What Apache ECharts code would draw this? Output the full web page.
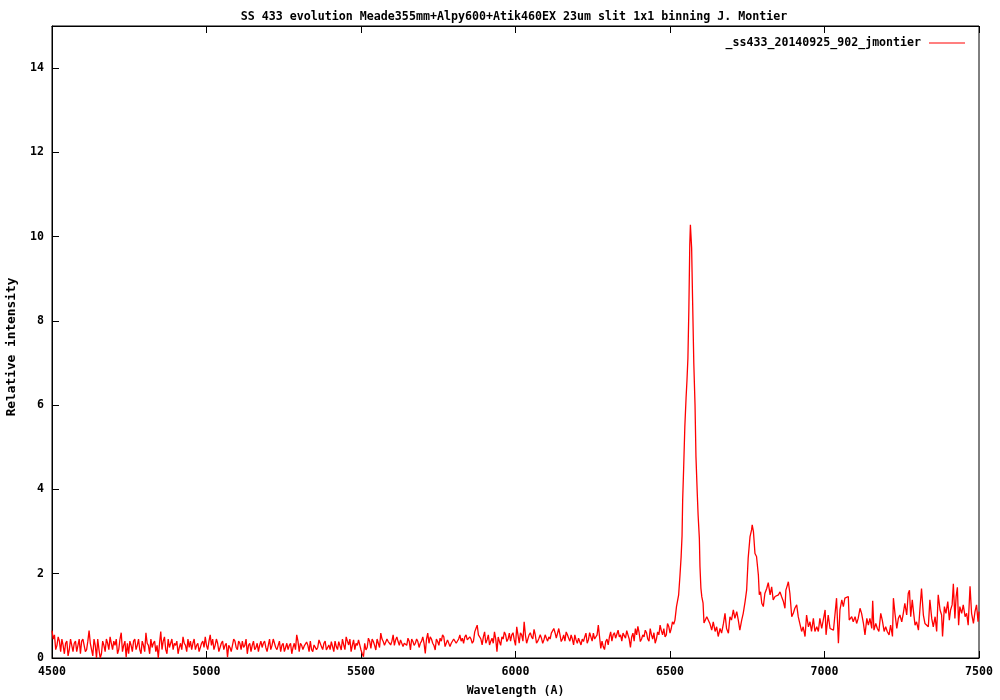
<!DOCTYPE html>
<html>
<head>
<meta charset="utf-8">
<script src="https://cdn.jsdelivr.net/npm/echarts@6/dist/echarts.min.js"></script>
<style>
html,body{margin:0;padding:0;background:#fff;}
#chart{width:1000px;height:700px;}
</style>
</head>
<body>
<div id="chart"></div>
<script>
const chartTitle = 'SS 433 evolution Meade355mm+Alpy600+Atik460EX 23um slit 1x1 binning J. Montier';
const seriesName = '_ss433_20140925_902_jmontier';
const xAxisName = 'Wavelength (A)';
const yAxisName = 'Relative intensity';
const xTicks = { min: 4500, max: 7500, interval: 500 };
const yTicks = { min: 0, max: 15, interval: 2 };

// [wavelength (A), relative intensity]
const blueContinuum = [
[4500,0.65],[4508,0.55],[4516,0.30],[4524,0.40],[4532,0.45],[4540,0.10],[4548,0.40],[4556,0.20],[4564,0.30],[4572,0.35],
[4580,0.15],[4588,0.45],[4596,0.40],[4604,0.30],[4612,0.20],[4620,0.65],[4628,0.20],[4636,0.45],[4644,0.00],[4652,0.20],
[4660,0.10],[4668,0.30],[4676,0.45],[4684,0.20],[4692,0.35],[4700,0.40],[4708,0.45],[4716,0.20],[4724,0.60],[4732,0.30],
[4740,0.02],[4748,0.10],[4756,0.30],[4764,0.40],[4772,0.20],[4780,0.45],[4788,0.10],[4796,0.30],[4804,0.60],[4812,0.30],
[4820,0.45],[4828,0.35],[4836,0.15],[4844,0.00],[4852,0.63],[4860,0.40],[4868,0.20],[4876,0.45],[4884,0.35],[4892,0.20],
[4900,0.30],[4908,0.10],[4916,0.35],[4924,0.50],[4932,0.30],[4940,0.45],[4948,0.40],[4956,0.35],[4964,0.20],[4972,0.35],
[4980,0.25],[4988,0.40],[4996,0.50],[5004,0.20],[5012,0.55],[5020,0.45],[5028,0.30],[5036,0.35],[5044,0.25],[5052,0.40],
[5060,0.30],[5068,0.02],[5076,0.25],[5084,0.30],[5092,0.40],[5100,0.20],[5108,0.35],[5116,0.40],[5124,0.30],[5132,0.10],
[5140,0.35],[5148,0.30],[5156,0.20],[5164,0.35],[5172,0.30],[5180,0.25],[5188,0.40],[5196,0.15],[5204,0.45],[5212,0.30],
[5220,0.35],[5228,0.20],[5236,0.40],[5244,0.30],[5252,0.15],[5260,0.35],[5268,0.30],
[5276,0.10],[5284,0.35],[5292,0.55],[5300,0.15],[5308,0.30],[5316,0.28],[5324,0.38],[5332,0.15],[5340,0.20],[5348,0.31],
[5356,0.20],[5364,0.43],[5372,0.27],[5380,0.35],[5388,0.19],[5396,0.31],[5404,0.39],[5412,0.15],[5420,0.27],[5428,0.39],
[5436,0.19],[5444,0.31],[5452,0.50],[5460,0.31],[5468,0.15],[5476,0.43],[5484,0.35],[5492,0.43],[5500,0.19],[5508,0.03],
[5516,0.19],[5524,0.47],[5532,0.23],[5540,0.39],[5548,0.19],[5556,0.35],[5564,0.59],[5572,0.39],[5580,0.27],[5588,0.39],
[5596,0.31],[5604,0.55],[5612,0.43],[5620,0.39],[5628,0.43],[5636,0.27],[5644,0.39],[5652,0.47],[5660,0.19],[5668,0.39],
[5676,0.35],[5684,0.39],[5692,0.35],[5700,0.50],[5708,0.11],[5716,0.59],[5724,0.50],[5732,0.35],[5740,0.19],[5748,0.39],
[5756,0.47],[5764,0.55],[5772,0.27],[5780,0.43],[5788,0.27],[5796,0.39],[5804,0.43],[5812,0.35],[5820,0.55],[5828,0.47],
[5836,0.50],[5844,0.43],[5852,0.50],[5860,0.35],[5868,0.62],[5876,0.78],[5884,0.59],[5892,0.31],[5900,0.62],[5908,0.43],
[5916,0.31],[5924,0.47],[5932,0.62],[5940,0.15],[5948,0.39],[5956,0.50],[5964,0.62],[5972,0.39],[5980,0.59],[5988,0.55],
[5996,0.43],[6004,0.74],[6012,0.35],[6020,0.55],[6028,0.86],
[6036,0.35],[6044,0.55],[6052,0.50],[6060,0.68],[6068,0.35],[6076,0.47],[6084,0.47],[6092,0.43],[6100,0.47],[6108,0.50],
[6116,0.59],[6124,0.70],[6132,0.47],[6140,0.70],[6148,0.39],[6156,0.55],[6164,0.62],[6172,0.47],[6180,0.55],[6188,0.31],
[6196,0.43],[6204,0.47],[6212,0.31],[6220,0.39],[6228,0.59],[6236,0.43],[6244,0.50],[6252,0.59],[6260,0.47],[6268,0.78],
[6276,0.23],[6284,0.27],[6292,0.39],[6300,0.31],[6308,0.62],[6316,0.55],[6324,0.47],[6332,0.66],[6340,0.55],[6348,0.59],
[6356,0.47],[6364,0.55],[6372,0.25],[6380,0.59],[6388,0.70],[6396,0.75],[6404,0.39],[6412,0.55],[6420,0.66],[6428,0.45],
[6436,0.70],[6444,0.45],[6452,0.35],[6460,0.62],[6468,0.78],[6476,0.55],[6484,0.50],[6492,0.82],[6500,0.59],[6508,0.86],
[6516,0.90]
];

// in-between samples of the same continuum (noise read between the points above)
const blueContinuumMid = [
[4504,0.45],[4512,0.20],[4520,0.50],[4528,0.15],[4536,0.30],[4544,0.35],[4552,0.05],[4560,0.45],[4568,0.15],[4576,0.40],
[4584,0.30],[4592,0.10],[4600,0.45],[4608,0.15],[4616,0.40],[4624,0.35],[4632,0.05],[4640,0.30],[4648,0.45],[4656,0.00],
[4664,0.40],[4672,0.15],[4680,0.35],[4688,0.50],[4696,0.20],[4704,0.30],[4712,0.10],[4720,0.45],[4728,0.15],[4736,0.40],
[4744,0.35],[4752,0.40],[4760,0.15],[4768,0.45],[4776,0.30],[4784,0.20],[4792,0.40],[4800,0.15],[4808,0.35],[4816,0.10],
[4824,0.25],[4832,0.40],[4840,0.30],[4848,0.35],[4856,0.20],[4864,0.50],[4872,0.10],[4880,0.25],[4888,0.45],[4896,0.35],
[4904,0.40],[4912,0.25],[4920,0.20],[4928,0.35],[4936,0.15],[4944,0.25],[4952,0.20],[4960,0.45],[4968,0.30],[4976,0.15],
[4984,0.35],[4992,0.25],[5000,0.30],[5008,0.40],[5016,0.30],[5024,0.20],[5032,0.45],[5040,0.15],[5048,0.35],[5056,0.20],
[5064,0.35],[5072,0.30],[5080,0.15],[5088,0.45],[5096,0.25],[5104,0.40],[5112,0.20],[5120,0.25],[5128,0.45],[5136,0.30],
[5144,0.15],[5152,0.40],[5160,0.25],[5168,0.15],[5176,0.40],[5184,0.35],[5192,0.25],[5200,0.30],[5208,0.20],[5216,0.45],
[5224,0.25],[5232,0.30],[5240,0.15],[5248,0.35],[5256,0.25],[5264,0.20],[5272,0.35],[5280,0.25],[5288,0.20],[5296,0.40],
[5304,0.35],[5312,0.20],[5320,0.25],[5328,0.30],[5336,0.40],[5344,0.15],[5352,0.35],[5360,0.25],[5368,0.35],[5376,0.20],
[5384,0.40],[5392,0.25],[5400,0.20],[5408,0.35],[5416,0.40],[5424,0.20],[5432,0.35],[5440,0.45],[5448,0.20],[5456,0.40],
[5464,0.45],[5472,0.30],[5480,0.20],[5488,0.30],[5496,0.40],[5504,0.10],[5512,0.35],[5520,0.25],[5528,0.40],[5536,0.45],
[5544,0.30],[5552,0.45],[5560,0.25],[5568,0.45],[5576,0.30],[5584,0.45],[5592,0.35],[5600,0.40],[5608,0.30],[5616,0.50],
[5624,0.30],[5632,0.45],[5640,0.35],[5648,0.30],[5656,0.40],[5664,0.45],[5672,0.30],[5680,0.45],[5688,0.25],[5696,0.40],
[5704,0.35],[5712,0.45],[5720,0.35],[5728,0.45],[5736,0.30],[5744,0.45],[5752,0.30],[5760,0.40],[5768,0.50],[5776,0.35],
[5784,0.45],[5792,0.35],[5800,0.45],
[5808,0.35],[5816,0.45],[5824,0.40],[5832,0.35],[5840,0.55],[5848,0.40],[5856,0.45],[5864,0.40],[5872,0.70],[5880,0.55],
[5888,0.45],[5896,0.50],[5904,0.35],[5912,0.55],[5920,0.40],[5928,0.35],[5936,0.45],[5944,0.50],[5952,0.30],[5960,0.45],
[5968,0.55],[5976,0.45],[5984,0.40],[5992,0.60],[6000,0.30],[6008,0.55],[6016,0.60],[6024,0.40],[6032,0.55],[6040,0.45],
[6048,0.60],[6056,0.45],[6064,0.55],[6072,0.40],[6080,0.55],[6088,0.35],[6096,0.55],[6104,0.40],[6112,0.45],[6120,0.55],
[6128,0.60],[6136,0.45],[6144,0.55],[6152,0.45],[6160,0.40],[6168,0.55],[6176,0.40],[6184,0.45],[6192,0.55],[6200,0.35],
[6208,0.50],[6216,0.45],[6224,0.50],[6232,0.35],[6240,0.60],[6248,0.40],[6256,0.45],[6264,0.55],[6272,0.50],[6280,0.40],
[6288,0.20],[6296,0.45],[6304,0.50],[6312,0.40],[6320,0.60],[6328,0.45],[6336,0.50],[6344,0.40],[6352,0.55],[6360,0.65],
[6368,0.45],[6376,0.50],[6384,0.40],[6392,0.55],[6400,0.60],[6408,0.45],[6416,0.50],[6424,0.60],[6432,0.40],[6440,0.55],
[6448,0.60],[6456,0.45],[6464,0.55],[6472,0.65],[6480,0.70],[6488,0.55],[6496,0.75],[6504,0.70],[6512,0.80]
];

const halphaLine = [
[6521,1.22],[6525,1.38],[6528,1.50],[6532,1.93],[6536,2.40],[6539,2.90],[6541,3.75],[6544,4.46],[6548,5.49],[6552,6.17],
[6555,6.60],[6558,7.12],[6561,8.26],[6564,9.80],[6566,10.28],[6568,10.30],[6570,9.73],[6573,8.54],[6577,7.00],[6581,6.00],
[6584,4.78],[6588,3.95],[6591,3.39],[6595,2.84],[6597,2.17],[6600,1.66],[6603,1.45],[6607,1.30],[6610,0.83]
];

const redContinuum = [
[6613,0.82],[6619,0.98],[6624,0.94],[6629,0.82],[6635,0.66],[6640,0.86],[6646,0.63],[6651,0.74],[6656,0.51],[6662,0.70],
[6667,0.59],[6673,0.82],[6678,1.06],[6683,0.70],[6689,0.59],[6694,0.98],[6699,0.90],[6705,1.14],[6710,0.94],[6716,1.10],
[6721,0.90],[6726,0.66],[6732,0.90],[6737,1.06],[6743,1.34],[6748,1.61],[6753,2.37],[6759,2.88],[6764,3.04],[6766,3.16],
[6770,3.00],[6775,2.48],[6780,2.41],[6786,1.97],[6789,1.50],[6793,1.57],[6797,1.30],[6802,1.22],[6807,1.53],[6813,1.65],
[6818,1.79],[6824,1.50],[6829,1.69],[6834,1.38],[6840,1.46],[6845,1.42],[6851,1.50],[6856,1.57],[6861,1.46],[6867,1.34],
[6872,1.18],[6875,1.61],[6880,1.73],[6883,1.81],[6888,1.53],[6894,0.98],[6899,1.06],[6904,1.18],[6910,1.26],[6915,0.98],
[6921,1.02],[6926,0.63],[6931,0.74],[6937,0.51],[6940,0.47],[6942,1.02],[6948,0.74],[6953,0.86],[6958,0.63],[6964,0.94],
[6969,0.63],[6975,0.74],[6980,0.63],[6985,0.94],[6991,0.70],[6996,0.74],[7002,1.14],[7005,0.55],[7012,1.02],[7018,0.70],
[7023,0.74],[7029,0.66],[7034,0.63],[7039,1.42],[7045,0.35],[7050,1.14],[7056,1.38],[7061,1.22],[7066,1.42],[7072,1.46],
[7077,1.46],[7080,0.90],[7088,0.98],[7093,0.86],[7099,0.98],[7104,0.82],[7109,0.94],[7115,1.18],[7120,1.06],[7126,0.82],
[7131,0.55],[7137,0.94],[7142,0.78],[7147,0.94],[7153,0.70],[7156,1.36],[7160,0.66],[7166,0.82],[7171,0.70],[7176,0.63],
[7182,1.06],[7187,0.90],[7193,0.63],[7198,0.74],[7203,0.63],[7209,0.55],[7214,0.78],[7220,0.51],[7223,1.42],[7228,1.06],
[7234,0.70],[7239,0.94],[7244,1.02],[7250,0.86],[7255,1.06],[7260,1.30],[7266,1.02],[7271,1.53],[7275,1.61],[7279,0.98],
[7284,1.38],[7288,1.10],[7293,0.78],[7298,0.86],[7304,0.66],[7309,1.18],[7314,1.65],[7320,1.02],[7325,0.82],[7331,0.78],
[7336,0.74],[7341,1.38],[7347,0.94],[7352,0.74],[7358,0.98],[7363,0.63],[7368,1.50],[7374,1.14],[7379,1.02],[7382,0.51],
[7388,1.22],[7393,1.06],[7399,1.34],[7404,0.90],[7408,1.14],[7413,1.26],[7417,1.76],[7422,0.94],[7426,1.46],[7430,1.68],
[7434,0.78],[7438,1.22],[7444,1.06],[7449,1.26],[7455,0.98],[7460,1.06],[7465,0.78],[7471,1.70],[7476,1.06],[7482,0.82],
[7487,1.10],[7492,1.26],[7497,0.86],[7500,1.10]
];

const spectrum = blueContinuum.concat(blueContinuumMid, halphaLine, redContinuum)
  .sort((a, b) => a[0] - b[0]);

const FONT = 'DejaVu Sans Mono';
const txt = { fontFamily: FONT, fontWeight: 'bold', fontSize: 11.6, color: '#000' };
const plain = v => String(v);

const chart = echarts.init(document.getElementById('chart'), null, { renderer: 'canvas' });
chart.setOption({
  animation: false,
  backgroundColor: '#fff',
  title: {
    text: chartTitle,
    left: 509,
    top: 6,
    textAlign: 'center',
    textStyle: Object.assign({}, txt, { fontSize: 11.65 })
  },
  legend: {
    data: [seriesName],
    right: 30,
    top: 32,
    align: 'right',
    icon: 'rect',
    itemWidth: 36,
    itemHeight: 1,
    textStyle: Object.assign({ padding: [0, 3, 0, 0] }, txt)
  },
  grid: {
    left: 52, right: 21, top: 26, bottom: 42,
    containLabel: false,
    outerBoundsMode: 'none',
    show: true,
    borderColor: '#000',
    borderWidth: 1,
    backgroundColor: 'transparent'
  },
  xAxis: [{
    type: 'value',
    position: 'bottom',
    min: xTicks.min, max: xTicks.max, interval: xTicks.interval,
    name: xAxisName,
    nameLocation: 'middle',
    nameGap: 27,
    nameTextStyle: Object.assign({}, txt),
    axisLine: { show: true, lineStyle: { color: '#000', width: 1 } },
    axisTick: { show: true, inside: true, length: 7, lineStyle: { color: '#000', width: 1 } },
    axisLabel: Object.assign({ margin: 8, formatter: plain }, txt),
    splitLine: { show: false }
  }, {
    type: 'value',
    position: 'top',
    min: xTicks.min, max: xTicks.max, interval: xTicks.interval,
    axisLine: { show: true, lineStyle: { color: '#000', width: 1 } },
    axisTick: { show: true, inside: true, length: 7, lineStyle: { color: '#000', width: 1 } },
    axisLabel: { show: false },
    splitLine: { show: false }
  }],
  yAxis: {
    type: 'value',
    min: yTicks.min, max: yTicks.max, interval: yTicks.interval,
    name: yAxisName,
    nameLocation: 'middle',
    nameRotate: 90,
    nameGap: 34,
    nameTextStyle: Object.assign({}, txt, { fontSize: 12.8, padding: [0, 10, 0, 0] }),
    axisLine: { show: true, lineStyle: { color: '#000', width: 1 } },
    axisTick: { show: true, inside: true, length: 7, lineStyle: { color: '#000', width: 1 } },
    axisLabel: Object.assign({ margin: 8, showMaxLabel: false, formatter: plain }, txt),
    splitLine: { show: false }
  },
  series: [{
    name: seriesName,
    type: 'line',
    xAxisIndex: 0,
    data: spectrum,
    symbol: 'none',
    showSymbol: false,
    color: '#ff0000',
    lineStyle: { color: '#ff0000', width: 1.3 },
    sampling: null,
    silent: true
  }]
});
</script>
</body>
</html>
